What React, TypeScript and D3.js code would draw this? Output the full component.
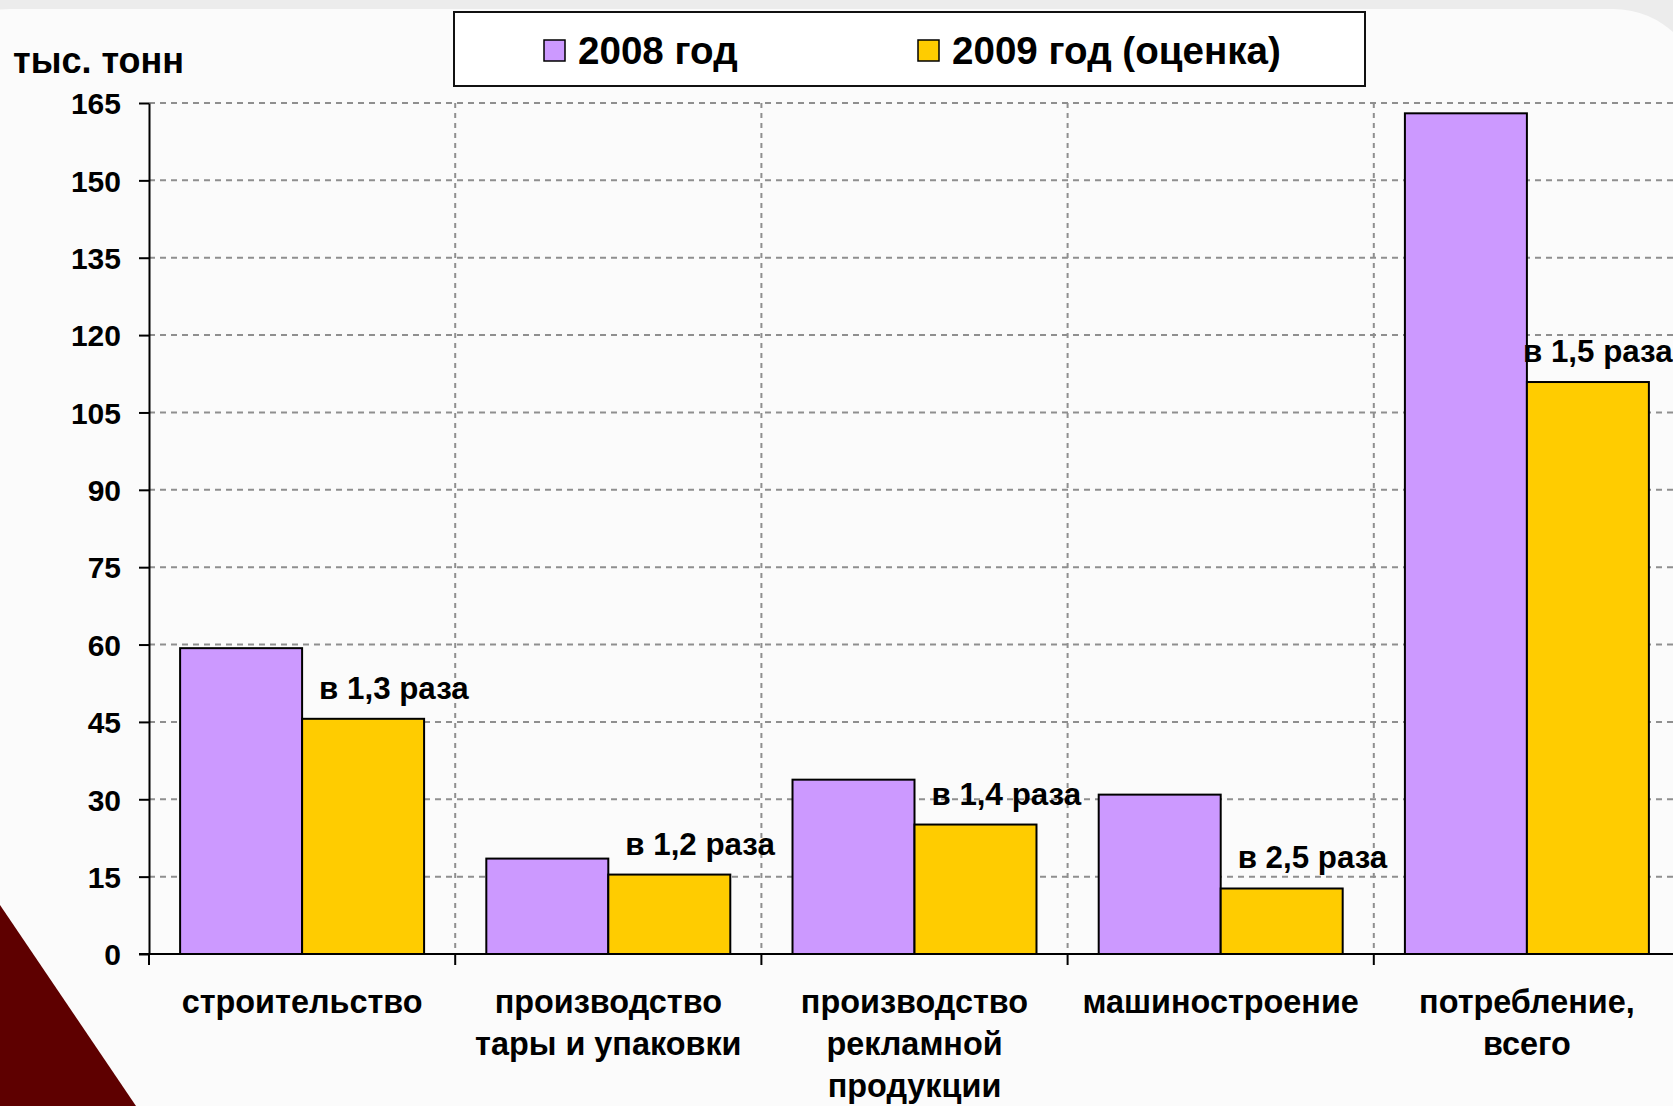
import React, { useRef, useEffect } from 'react';
import * as d3 from 'd3';

const categories = [
  'строительство',
  'производство тары и упаковки',
  'производство рекламной продукции',
  'машиностроение',
  'потребление, всего',
];
const categoryLines = [
  ['строительство'],
  ['производство', 'тары и упаковки'],
  ['производство', 'рекламной', 'продукции'],
  ['машиностроение'],
  ['потребление,', 'всего'],
];
const seriesNames = ['2008 год', '2009 год (оценка)'];
const values2008 = [59.3, 18.5, 33.8, 30.9, 163.0];
const values2009 = [45.6, 15.4, 25.1, 12.7, 110.9];
const ratioLabels = ['в 1,3 раза', 'в 1,2 раза', 'в 1,4 раза', 'в 2,5 раза', 'в 1,5 раза'];
const yTicks = [0, 15, 30, 45, 60, 75, 90, 105, 120, 135, 150, 165];
const yTitle = 'тыс. тонн';

const colors = ['#CC99FF', '#FFCC00'];
const FONT = '"Liberation Sans", Arial, sans-serif';

const App = () => {
  const ref = useRef<SVGSVGElement>(null);

  useEffect(() => {
    const W = 1673, H = 1106;
    const svg = d3.select(ref.current);
    svg.selectAll('*').remove();

    // background: grey frame, light panel, maroon corner
    svg.append('rect').attr('width', W).attr('height', H).attr('fill', '#ececec');
    svg.append('rect').attr('x', -80).attr('y', 9).attr('width', W + 110).attr('height', H + 80)
      .attr('rx', 90).attr('fill', '#fbfbfb');
    svg.append('path')
      .attr('d', `M0,${H} L0,905 L136,${H} Z`)
      .attr('fill', '#5e0000');

    const left = 149, top = 103, bottom = 954;
    const band = 306.2;
    const x = d3.scaleBand().domain(categories).range([left, left + band * categories.length]);
    const xs = d3.scaleBand().domain(seriesNames).range([0, x.bandwidth()]).paddingOuter(0.255);
    const y = d3.scaleLinear().domain([0, 165]).range([bottom, top]);
    const right = left + band * categories.length;

    // gridlines
    const grid = svg.append('g');
    grid.selectAll('.h').data(yTicks.filter(t => t > 0)).enter().append('line')
      .attr('x1', left).attr('x2', right)
      .attr('y1', d => y(d)).attr('y2', d => y(d))
      .attr('stroke', '#8f8f8f').attr('stroke-width', 2).attr('stroke-dasharray', '6,5');
    grid.selectAll('.v').data(categories.slice(1)).enter().append('line')
      .attr('x1', d => x(d)!).attr('x2', d => x(d)!)
      .attr('y1', top).attr('y2', bottom)
      .attr('stroke', '#8f8f8f').attr('stroke-width', 2).attr('stroke-dasharray', '5,5');

    // bars
    const series = [values2008, values2009];
    const g = svg.append('g');
    series.forEach((vals, si) => {
      g.selectAll(`.bar${si}`).data(vals).enter().append('rect')
        .attr('x', (d, i) => x(categories[i])! + xs(seriesNames[si])!)
        .attr('y', d => y(d))
        .attr('width', xs.bandwidth())
        .attr('height', d => y(0) - y(d))
        .attr('fill', colors[si])
        .attr('stroke', '#000').attr('stroke-width', 2);
    });

    // ratio labels above the 2009 bars
    g.selectAll('.ratio').data(ratioLabels).enter().append('text')
      .attr('x', (d, i) => Math.min(x(categories[i])! + xs(seriesNames[1])! + 17, W - 150))
      .attr('y', (d, i) => y(values2009[i]) - 20)
      .attr('font-family', FONT).attr('font-weight', 'bold').attr('font-size', 31.3)
      .attr('fill', '#000')
      .text(d => d);

    // y axis
    const yAxis = svg.append('g').attr('transform', `translate(${left},0)`)
      .call(d3.axisLeft(y).tickValues(yTicks).tickSize(10).tickSizeOuter(0).tickPadding(18));
    yAxis.select('.domain').attr('stroke', '#000').attr('stroke-width', 2);
    yAxis.selectAll('.tick line').attr('stroke', '#000').attr('stroke-width', 2);
    yAxis.selectAll('.tick text')
      .attr('font-family', FONT).attr('font-weight', 'bold').attr('font-size', 30)
      .attr('fill', '#000').attr('dy', '0.36em');

    // x axis
    const xa = svg.append('g');
    xa.append('line').attr('x1', left - 10).attr('x2', right).attr('y1', bottom).attr('y2', bottom)
      .attr('stroke', '#000').attr('stroke-width', 2);
    xa.selectAll('.xt').data(categories).enter().append('line')
      .attr('x1', d => x(d)!).attr('x2', d => x(d)!)
      .attr('y1', bottom).attr('y2', bottom + 11)
      .attr('stroke', '#000').attr('stroke-width', 2);
    const labels = xa.selectAll('.xl').data(categories).enter().append('text')
      .attr('transform', d => `translate(${x(d)! + x.bandwidth() / 2},${bottom + 59})`)
      .attr('text-anchor', 'middle')
      .attr('font-family', FONT).attr('font-weight', 'bold').attr('font-size', 32.4)
      .attr('fill', '#000');
    labels.each(function (d, i) {
      const t = d3.select(this);
      categoryLines[i].forEach((line, li) => {
        t.append('tspan').attr('x', 0).attr('y', li * 42).text(line);
      });
    });

    // y title
    svg.append('text').attr('x', 13).attr('y', 73)
      .attr('font-family', FONT).attr('font-weight', 'bold').attr('font-size', 36)
      .attr('fill', '#000').text(yTitle);

    // legend
    const lg = svg.append('g');
    lg.append('rect').attr('x', 454).attr('y', 12).attr('width', 911).attr('height', 74)
      .attr('fill', '#fff').attr('stroke', '#111').attr('stroke-width', 2);
    const legendX = [544, 918];
    seriesNames.forEach((name, i) => {
      lg.append('rect').attr('x', legendX[i]).attr('y', 40).attr('width', 21).attr('height', 21)
        .attr('fill', colors[i]).attr('stroke', '#000').attr('stroke-width', 1.5);
      lg.append('text').attr('x', legendX[i] + 34).attr('y', 64)
        .attr('font-family', FONT).attr('font-weight', 'bold').attr('font-size', 38.6)
        .attr('fill', '#000').text(name);
    });
  }, []);

  return (
    <svg ref={ref} width={1673} height={1106}
      style={{ position: 'absolute', left: 0, top: 0, display: 'block' }} />
  );
};

export default App;
